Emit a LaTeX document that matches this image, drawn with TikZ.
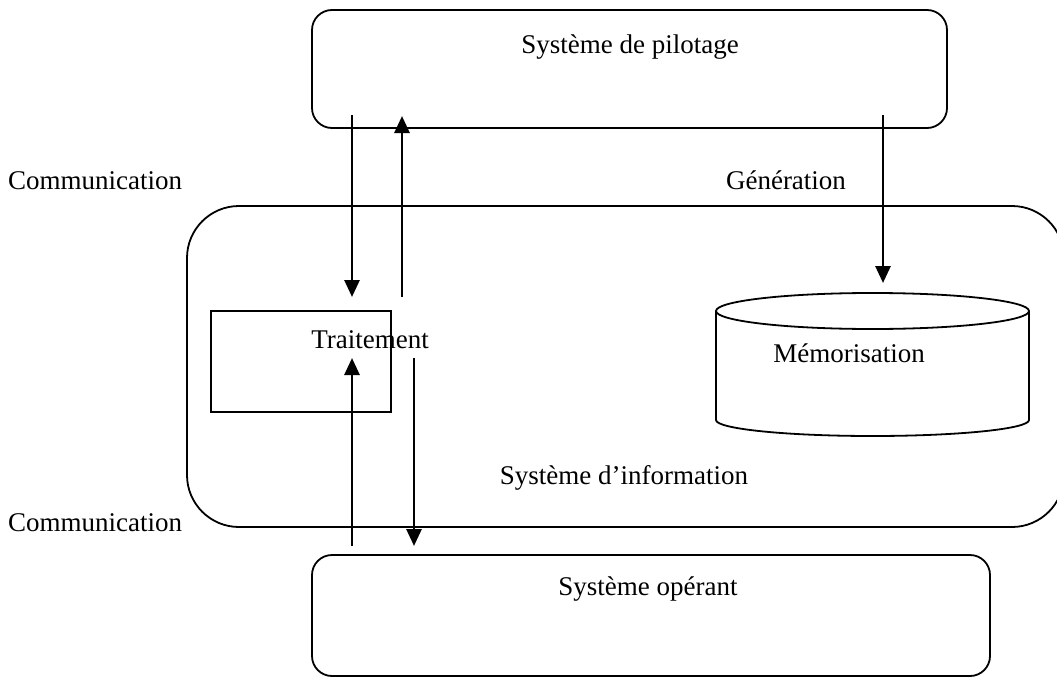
\documentclass[tikz,border=0pt]{standalone}
\usepackage{fontspec}
\setmainfont{Liberation Serif}
\usetikzlibrary{arrows.meta}
\begin{document}
\begin{tikzpicture}[x=1pt,y=-1pt,
  box/.style={draw,line width=1.8pt,rounded corners=#1},
  lbl/.style={font=\fontsize{27}{32}\selectfont,inner sep=0pt,anchor=base},
  flow/.style={line width=2.8pt,-{Triangle[length=17pt,width=15pt]}}]
\useasboundingbox (0,0) rectangle (1057,677);
\clip (0,0) rectangle (1057,677);
% boxes
\draw[box=20pt] (312,10) rectangle (947,128);
\draw[box=52pt] (187,206) rectangle (1064,527);
\draw[line width=1.8pt] (211,311) rectangle (391,412);
\draw[box=20pt] (312,555) rectangle (990,676);
% cylinder
\draw[line width=1.8pt] (716,311) -- (716,420) arc[start angle=180,end angle=360,x radius=156.5pt,y radius=16pt] -- (1029,311);
\draw[line width=1.8pt] (872.5,311) ellipse[x radius=156.5pt,y radius=18pt];
% texts
\node[lbl] (pilot) at (630,54) {Système de pilotage};
\node[lbl] (trait) at (370,348) {Traitement};
\node[lbl] (mem) at (849,362) {Mémorisation};
\node[lbl] (si) at (624,484) {Système d’information};
\node[lbl] (oper) at (648,595) {Système opérant};
\node[lbl] (com1) at (95,189) {Communication};
\node[lbl] (com2) at (95,531) {Communication};
\node[lbl] (gen) at (786,189) {Génération};
% connector end points
\coordinate (p1) at (352,115);
\coordinate (t1) at (352,297);
\coordinate (t2) at (402,297);
\coordinate (p2) at (402,116);
\coordinate (o1) at (352,546);
\coordinate (t3) at (352,358);
\coordinate (t4) at (414,358);
\coordinate (o2) at (414,546);
\coordinate (p3) at (883,115);
\coordinate (m1) at (883,283);
\draw[flow] (p1) -- (t1);
\draw[flow] (t2) -- (p2);
\draw[flow] (o1) -- (t3);
\draw[flow] (t4) -- (o2);
\draw[flow] (p3) -- (m1);
\end{tikzpicture}
\end{document}
